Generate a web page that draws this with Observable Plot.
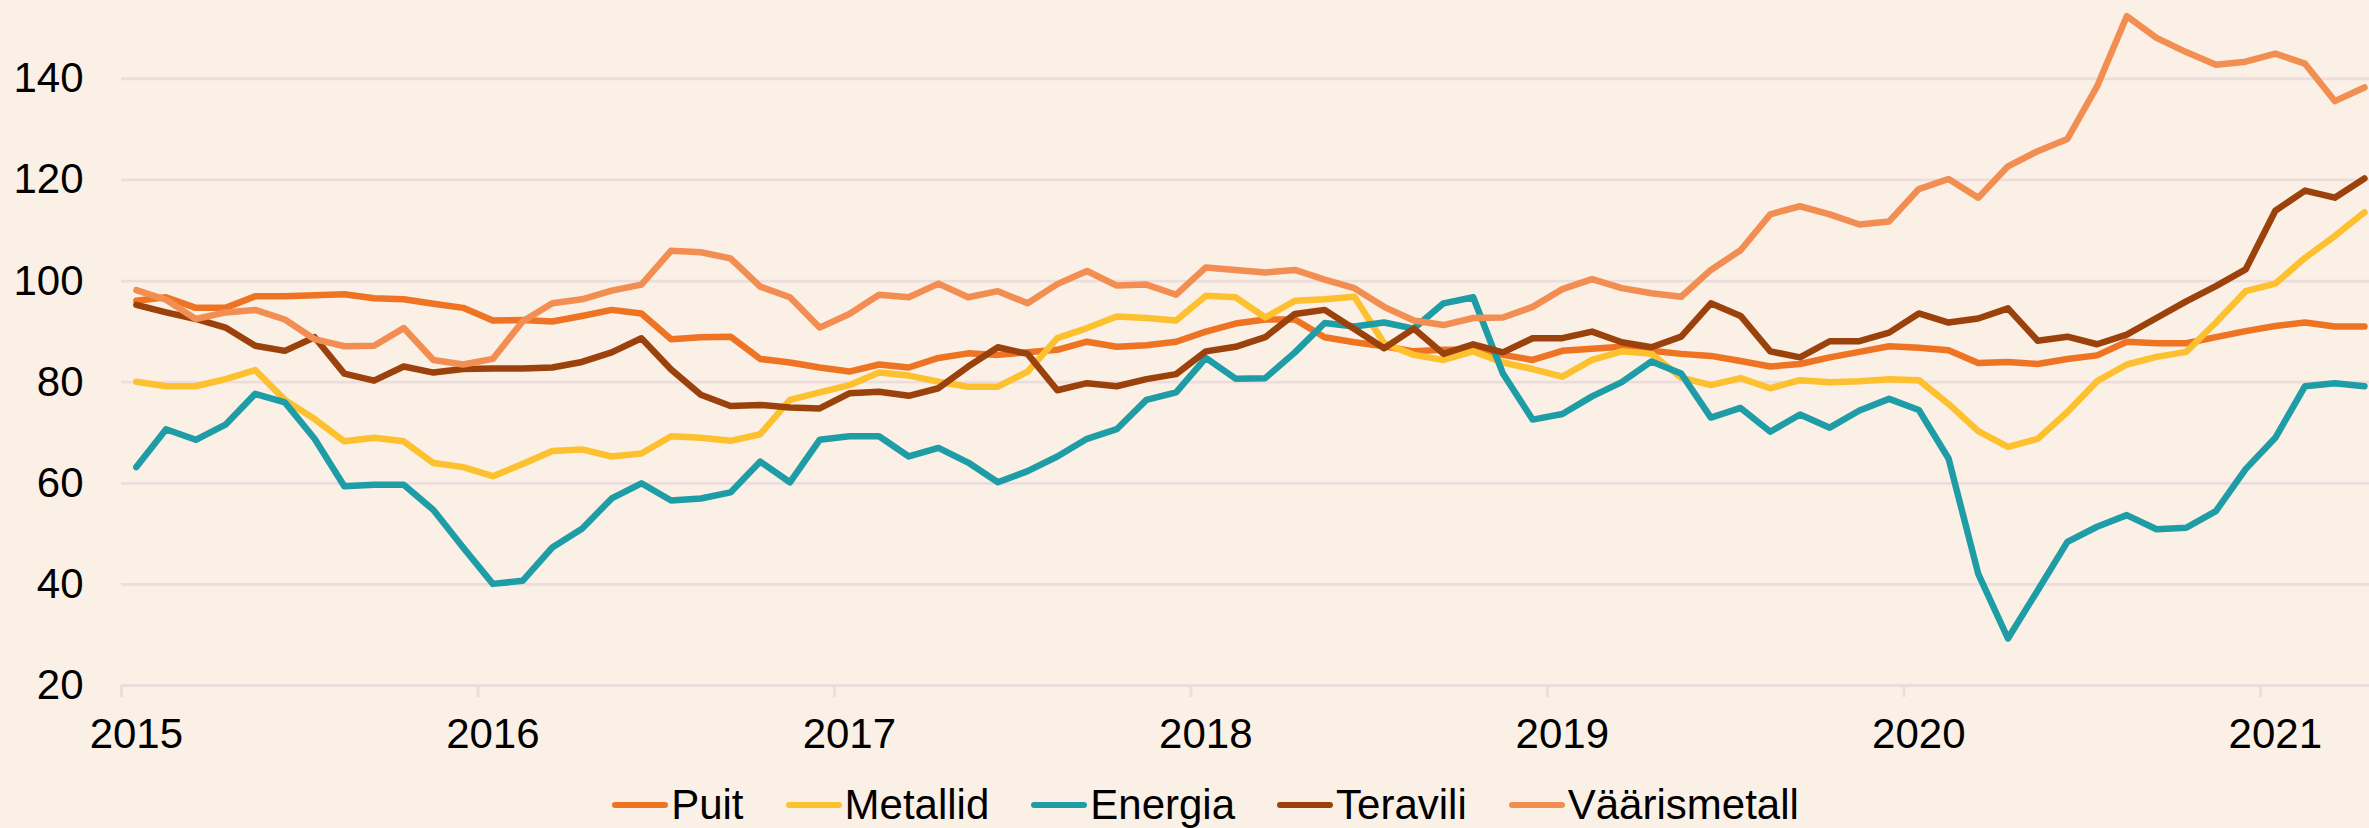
<!DOCTYPE html>
<html>
<head>
<meta charset="utf-8">
<script src="https://cdn.jsdelivr.net/npm/d3@7"></script>
<script src="https://cdn.jsdelivr.net/npm/@observablehq/plot@0.6"></script>
<style>
  html, body { margin: 0; padding: 0; background: #FAF0E6; overflow: hidden; }
  #wrap { width: 2369px; height: 828px; position: relative; font-family: "Liberation Sans", Arial, sans-serif; }
  #legend { position: absolute; top: 770px; left: 0; width: 2369px; height: 58px; display: flex; justify-content: center; align-items: flex-start; padding-top: 14px; box-sizing: border-box; transform: translateX(21px); }
  .item { display: flex; align-items: center; margin: 0 21px; font-size: 42px; line-height: 42px; color: #000; }
  .sw { width: 56px; height: 6.5px; border-radius: 3px; margin-right: 3px; }
</style>
</head>
<body>
<div id="wrap"><div id="chart"></div><div id="legend"></div></div>
<script>
const years = ["2015", "2016", "2017", "2018", "2019", "2020", "2021"];
const yTickValues = [20, 40, 60, 80, 100, 120, 140];
const seriesNames = ["Puit", "Metallid", "Energia", "Teravili", "Väärismetall"];
const seriesColors = ["#EE7424", "#FDC02F", "#1F9DA7", "#9B420C", "#F28E52"];

const puit = [96.1, 96.8, 94.7, 94.7, 97.0, 97.0, 97.2, 97.4, 96.6, 96.4, 95.5, 94.7,
  92.2, 92.3, 92.0, 93.1, 94.3, 93.6, 88.5, 88.9, 89.0, 84.6, 83.9, 82.9,
  82.1, 83.5, 82.9, 84.8, 85.7, 85.4, 85.9, 86.4, 88.0, 87.0, 87.3, 88.0,
  90.0, 91.6, 92.4, 92.4, 88.9, 87.9, 87.1, 86.1, 86.4, 86.4, 85.4, 84.4,
  86.2, 86.6, 87.0, 86.2, 85.6, 85.2, 84.2, 83.1, 83.6, 84.9, 86.0, 87.1,
  86.8, 86.3, 83.8, 84.0, 83.6, 84.6, 85.3, 88.0, 87.7, 87.7, 88.9, 90.1,
  91.1, 91.8, 91.0, 91.0];
const metallid = [80.1, 79.2, 79.2, 80.6, 82.4, 76.5, 72.7, 68.3, 69.0, 68.3, 64.0, 63.2,
  61.4, 63.8, 66.4, 66.7, 65.3, 65.9, 69.3, 69.0, 68.4, 69.7, 76.5, 78.0,
  79.4, 81.9, 81.3, 80.1, 79.1, 79.1, 82.1, 88.7, 90.7, 93.0, 92.7, 92.2,
  97.1, 96.8, 92.8, 96.1, 96.4, 96.9, 87.7, 85.4, 84.4, 86.1, 83.9, 82.6,
  81.1, 84.4, 86.1, 85.6, 80.9, 79.4, 80.8, 78.8, 80.4, 80.0, 80.2, 80.6,
  80.4, 75.7, 70.3, 67.2, 68.8, 74.1, 80.2, 83.5, 85.0, 86.0, 91.8, 98.0,
  99.5, 104.6, 108.9, 113.6];
const energia = [63.2, 70.7, 68.6, 71.6, 77.7, 76.0, 68.8, 59.4, 59.7, 59.7, 54.7, 47.3,
  40.1, 40.7, 47.3, 51.0, 57.0, 60.0, 56.6, 57.0, 58.2, 64.3, 60.2, 68.6,
  69.3, 69.3, 65.3, 67.0, 64.1, 60.2, 62.4, 65.3, 68.8, 70.7, 76.5, 78.0,
  84.8, 80.7, 80.8, 85.9, 91.7, 91.0, 91.8, 90.6, 95.6, 96.8, 81.7, 72.6,
  73.7, 77.2, 80.0, 84.1, 81.7, 73.0, 74.9, 70.2, 73.6, 71.0, 74.4, 76.7,
  74.5, 64.9, 42.1, 29.3, 38.8, 48.4, 51.4, 53.7, 50.9, 51.2, 54.5, 62.8,
  69.0, 79.2, 79.8, 79.2];
const teravili = [95.3, 93.8, 92.5, 90.8, 87.2, 86.2, 88.9, 81.7, 80.3, 83.1, 81.9, 82.6,
  82.7, 82.7, 82.9, 84.0, 85.9, 88.7, 82.5, 77.5, 75.3, 75.5, 75.0, 74.8,
  77.8, 78.1, 77.3, 78.8, 83.1, 86.9, 85.6, 78.4, 79.8, 79.2, 80.6, 81.6,
  86.1, 87.0, 88.9, 93.5, 94.3, 90.5, 86.7, 90.6, 85.6, 87.5, 85.9, 88.7,
  88.7, 90.0, 87.9, 86.9, 89.0, 95.6, 93.1, 86.1, 84.9, 88.1, 88.1, 89.8,
  93.6, 91.8, 92.6, 94.6, 88.2, 89.0, 87.5, 89.4, 92.7, 96.0, 99.0, 102.3,
  113.9, 117.9, 116.5, 120.3];
const vaarismetall = [98.2, 96.3, 92.5, 93.8, 94.3, 92.4, 88.5, 87.1, 87.2, 90.7, 84.4, 83.5,
  84.6, 92.0, 95.6, 96.4, 98.1, 99.3, 106.0, 105.7, 104.5, 98.9, 96.8, 90.8,
  93.5, 97.3, 96.8, 99.5, 96.8, 98.0, 95.6, 99.4, 102.0, 99.1, 99.3, 97.3,
  102.7, 102.2, 101.7, 102.2, 100.3, 98.6, 94.9, 92.2, 91.3, 92.7, 92.8, 94.9,
  98.4, 100.4, 98.6, 97.6, 96.9, 102.2, 106.1, 113.2, 114.8, 113.2, 111.2, 111.8,
  118.2, 120.2, 116.5, 122.7, 125.7, 128.1, 138.5, 152.4, 148.1, 145.3, 142.8, 143.4,
  145.0, 143.0, 135.6, 138.3];

const seriesValues = [puit, metallid, energia, teravili, vaarismetall];
const rows = [];
seriesNames.forEach((name, s) => {
  seriesValues[s].forEach((v, i) => rows.push({series: name, i, value: v}));
});
const nMonths = puit.length;
const yearIdx = years.map((_, k) => k * 12);
const yearBounds = years.map((_, k) => k * 12 - 0.5);

const grid = "#EDDCDC";
const chart = Plot.plot({
  width: 2369,
  height: 770,
  marginLeft: 121,
  marginRight: 0,
  marginTop: 0,
  marginBottom: 85,
  style: {background: "transparent", fontFamily: "'Liberation Sans', Arial, sans-serif", fontSize: "42px", color: "#000", overflow: "visible"},
  x: {type: "linear", domain: [-0.5, nMonths - 0.83]},
  y: {domain: [20, 155.5]},
  color: {domain: seriesNames, range: seriesColors},
  marks: [
    Plot.ruleY(yTickValues, {stroke: grid, strokeWidth: 2.8}),
    Plot.axisY({ticks: yTickValues, tickSize: 0, tickPadding: 38, label: null, fontSize: 42}),
    Plot.axisX({ticks: yearBounds, tickSize: 12, tickFormat: () => "", stroke: grid, strokeWidth: 2.8, label: null}),
    Plot.axisX({ticks: yearIdx, tickSize: 0, tickPadding: 33, tickFormat: i => years[Math.round(i / 12)], label: null, fontSize: 42}),
    Plot.line(rows, {x: "i", y: "value", z: "series", stroke: "series", strokeWidth: 6.5, strokeLinejoin: "round", strokeLinecap: "round"})
  ]
});
document.getElementById("chart").appendChild(chart);

const legend = document.getElementById("legend");
seriesNames.forEach((name, s) => {
  const it = document.createElement("div");
  it.className = "item";
  const sw = document.createElement("span");
  sw.className = "sw";
  sw.style.background = seriesColors[s];
  const t = document.createElement("span");
  t.textContent = name;
  it.appendChild(sw);
  it.appendChild(t);
  legend.appendChild(it);
});
</script>
</body>
</html>
